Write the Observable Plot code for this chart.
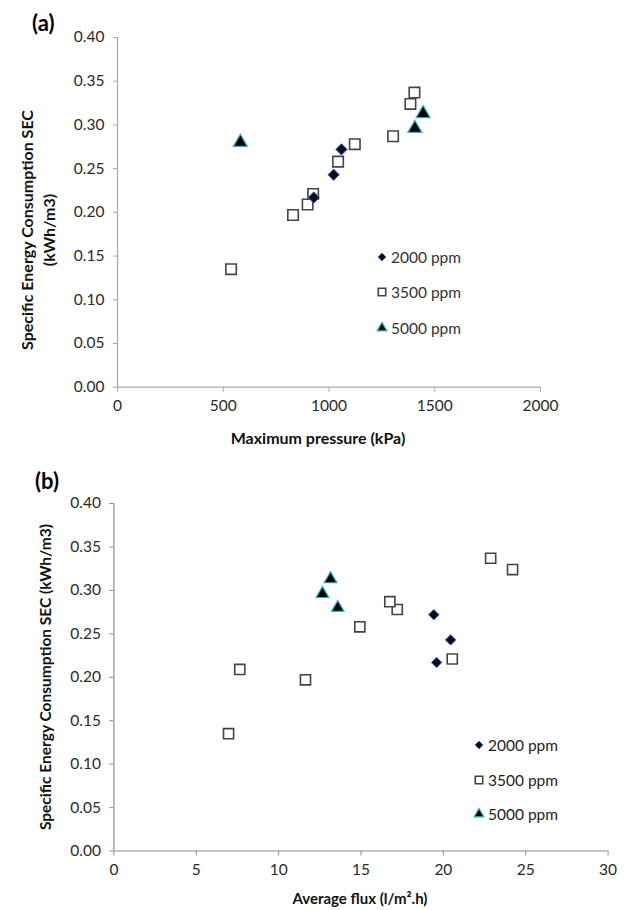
<!DOCTYPE html>
<html>
<head>
<meta charset="utf-8">
<script src="https://cdn.jsdelivr.net/npm/d3@7"></script>
<script src="https://cdn.jsdelivr.net/npm/@observablehq/plot@0.6"></script>
<style>
  html, body { margin: 0; padding: 0; background: #fff; }
  #wrap { position: relative; width: 624px; height: 910px; overflow: hidden; background: #fff; font-family: Lato, "Open Sans", sans-serif; }
  #wrap > svg { position: absolute; left: 0; }
</style>
</head>
<body>
<div id="wrap"></div>
<script>
// ---------------- DATA ----------------
const seriesNames = ["2000 ppm", "3500 ppm", "5000 ppm"];

// 2000 ppm (diamonds)
const sec2000      = [0.217, 0.243, 0.272];
const pressure2000 = [928, 1022, 1059];
const flux2000     = [19.59, 20.44, 19.42];

// 3500 ppm (open squares)
const sec3500      = [0.135, 0.197, 0.209, 0.221, 0.258, 0.278, 0.287, 0.324, 0.337];
const pressure3500 = [537, 830, 899, 925, 1043, 1122, 1303, 1385, 1404];
const flux3500     = [6.96, 11.63, 7.64, 20.54, 14.93, 17.2, 16.75, 24.2, 22.87];

// 5000 ppm (triangles)
const sec5000      = [0.280, 0.296, 0.313];
const pressure5000 = [581, 1406, 1445];
const flux5000     = [13.59, 12.66, 13.15];

const secTicks      = [0, 0.05, 0.10, 0.15, 0.20, 0.25, 0.30, 0.35, 0.40];
const pressureTicks = [0, 500, 1000, 1500, 2000];
const fluxTicks     = [0, 5, 10, 15, 20, 25, 30];

const titleA = "(a)";
const titleB = "(b)";
const yLabelA = ["Specific Energy Consumption SEC", "(kWh/m3)"];
const yLabelB = "Specific Energy Consumption SEC (kWh/m3)";
const xLabelA = "Maximum pressure (kPa)";
const xLabelB = "Average flux (l/m\u00B2.h)";

// ---------------- BUILD ROWS ----------------
const rows = (sec, xs) => sec.map((s, i) => ({x: xs[i], y: s}));
const dA = rows(sec2000, pressure2000), sA = rows(sec3500, pressure3500), tA = rows(sec5000, pressure5000);
const dB = rows(sec2000, flux2000),     sB = rows(sec3500, flux3500),     tB = rows(sec5000, flux5000);

const FONT = "Lato, 'Open Sans', sans-serif";
const baseSty = {
  diamond:  {symbol: "diamond2", fill: "#0b0b1e", stroke: "#2a6db5", strokeWidth: 1},
  square:   {symbol: "square",   fill: "#fff",    stroke: "#444",    strokeWidth: 1.6},
  triangle: {symbol: "triangle", fill: "#000",    stroke: "#2bb5c9", strokeWidth: 1.2}
};

function chart({xDomain, xTicks, ds, ss, ts, width, height, mL, mR, mT, mB, axisColor, rD, rS, rT}) {
  return Plot.plot({
    width, height,
    marginLeft: mL, marginRight: mR, marginTop: mT, marginBottom: mB,
    style: {fontFamily: FONT, fontSize: "15.5px", background: "transparent", overflow: "visible"},
    x: {domain: xDomain, label: null},
    y: {domain: [0, 0.4], label: null},
    marks: [
      Plot.ruleX([0], {stroke: axisColor, strokeWidth: 1.2}),
      Plot.ruleY([0], {stroke: axisColor, strokeWidth: 1.2}),
      Plot.axisX({ticks: xTicks, tickSize: 5, tickPadding: 8, stroke: axisColor, fill: "#2a2a2a", label: null, tickFormat: d3.format("d")}),
      Plot.axisY({ticks: secTicks, tickSize: 4, tickPadding: 9, stroke: axisColor, fill: "#2a2a2a", label: null, tickFormat: d3.format(".2f")}),
      Plot.dot(ss, {x: "x", y: "y", ...baseSty.square, r: rS}),
      Plot.dot(ds, {x: "x", y: "y", ...baseSty.diamond, r: rD}),
      Plot.dot(ts, {x: "x", y: "y", ...baseSty.triangle, r: rT})
    ]
  });
}

const wrap = document.getElementById("wrap");

const cA = chart({xDomain: [0, 2000], xTicks: pressureTicks, ds: dA, ss: sA, ts: tA,
  width: 624, height: 450, mL: 117, mR: 84, mT: 37, mB: 63.3, axisColor: "#a8a8a8",
  rD: 5.1, rS: 5.9, rT: 5.2});
cA.style.top = "0px";
wrap.appendChild(cA);

const cB = chart({xDomain: [0, 30], xTicks: fluxTicks, ds: dB, ss: sB, ts: tB,
  width: 624, height: 450, mL: 113.4, mR: 16.4, mT: 43, mB: 59.5, axisColor: "#8c8c8c",
  rD: 4.7, rS: 5.7, rT: 4.7});
cB.style.top = "460px";
wrap.appendChild(cB);

// ---------------- OVERLAY: titles & legends ----------------
const ov = d3.select(wrap).append("svg")
  .attr("width", 624).attr("height", 910)
  .style("top", "0px").style("pointer-events", "none")
  .attr("font-family", FONT);

function txt(x, y, s, size, weight, anchor = "start", rot = 0, fill = "#111") {
  ov.append("text")
    .attr("transform", `translate(${x},${y})` + (rot ? ` rotate(${rot})` : ""))
    .attr("text-anchor", anchor)
    .attr("dominant-baseline", "central")
    .attr("font-size", size).attr("font-weight", weight)
    .attr("fill", fill).text(s);
}

// panel labels
ov.append("text").attr("x", 32).attr("y", 31).attr("font-size", 22).attr("font-weight", 700).attr("fill", "#000").text(titleA);
ov.append("text").attr("x", 35).attr("y", 489).attr("font-size", 22).attr("font-weight", 700).attr("fill", "#000").text(titleB);

// axis titles
txt(26, 230, yLabelA[0], 16, 700, "middle", -90);
txt(48, 230, yLabelA[1], 16, 700, "middle", -90);
txt(318, 437, xLabelA, 16, 700, "middle");
txt(45, 677, yLabelB, 15.5, 700, "middle", -90);
txt(360, 898, xLabelB, 15, 700, "middle");

// legends
const symMap = {diamond2: d3.symbolDiamond2, square: d3.symbolSquare, triangle: d3.symbolTriangle};
const legendR = [3.5, 4.2, 3.6];
function legend(x0, ys, textX, textFill) {
  const st = [baseSty.diamond, baseSty.square, baseSty.triangle];
  seriesNames.forEach((name, i) => {
    const s = st[i];
    const r = legendR[i];
    ov.append("path")
      .attr("transform", `translate(${x0},${ys[i]})`)
      .attr("d", d3.symbol(symMap[s.symbol], Math.PI * r * r)())
      .attr("fill", s.fill).attr("stroke", s.stroke).attr("stroke-width", s.strokeWidth);
    txt(textX, ys[i], name, 15.5, 400, "start", 0, textFill);
  });
}
legend(382, [257, 292, 328], 391, "#333");
legend(479, [745, 780, 814], 488, "#1e1e1e");
</script>
</body>
</html>
